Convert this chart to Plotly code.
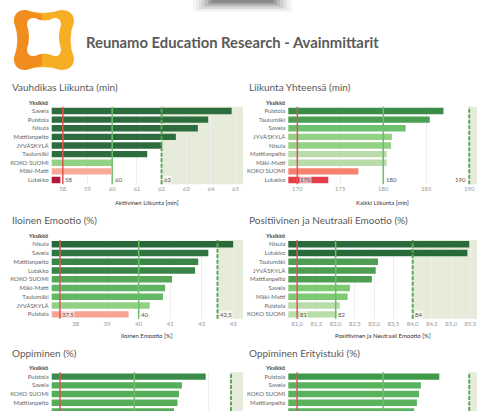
import plotly.graph_objects as go

W, H = 477, 411

# ---------------- data ----------------
VL_UNITS = ["Savela", "Puistola", "Nisula", "Mattilanpelto", "JYVÄSKYLÄ", "Taulumäki", "KOKO SUOMI", "Mäki-Matti", "Lutakko"]
VL_VALUES = [64.84, 63.89, 63.47, 62.58, 62.02, 61.42, 60.0, 59.96, 57.9]
VL_REFS = [58, 60, 62]
VL_TICKS = [58, 59, 60, 61, 62, 63, 64, 65]

LY_UNITS = ["Puistola", "Taulumäki", "Savela", "JYVÄSKYLÄ", "Nisula", "Mattilanpelto", "Mäki-Matti", "KOKO SUOMI", "Lutakko"]
LY_VALUES = [187.0, 185.4, 182.6, 181.0, 180.9, 180.4, 180.4, 177.1, 173.6]
LY_REFS = [170, 180, 190]
LY_TICKS = [170, 175, 180, 185, 190]

IE_UNITS = ["Nisula", "Savela", "Mattilanpelto", "Lutakko", "KOKO SUOMI", "Mäki-Matti", "Taulumäki", "JYVÄSKYLÄ", "Puistola"]
IE_VALUES = [43.0, 42.21, 41.89, 41.79, 41.06, 40.84, 40.77, 40.35, 39.68]
IE_REFS = [37.5, 40, 42.5]
IE_TICKS = [38, 39, 40, 41, 42, 43]

PN_UNITS = ["Nisula", "Lutakko", "Taulumäki", "JYVÄSKYLÄ", "Mattilanpelto", "Savela", "Mäki-Matti", "Puistola", "KOKO SUOMI"]
PN_VALUES = [85.47, 85.42, 83.1, 83.04, 82.94, 82.37, 82.31, 82.11, 82.03]
PN_REFS = [81, 82, 84]
PN_TICKS = [81.0, 81.5, 82.0, 82.5, 83.0, 83.5, 84.0, 84.5, 85.0, 85.5]

OP_UNITS = ["Puistola", "Savela", "KOKO SUOMI", "Mattilanpelto", "Nisula"]
OP_VALUES = [79.8, 78.2, 78.0, 77.9, 77.67]
OP_REFS = [70, 75, 81.5]
OP_TICKS = [70, 75, 80]

OE_UNITS = ["Puistola", "Savela", "KOKO SUOMI", "Mattilanpelto", "Lutakko"]
OE_VALUES = [78.26, 77.19, 77.08, 76.96, 76.8]
OE_REFS = [70, 75, 80]
OE_TICKS = [70, 75, 80]

# ---------------- styles ----------------
DG = "#2d6c3c"
VL_COLORS = [DG, DG, DG, DG, DG, DG, "#93d185", "#f9a99a", "#b3173b"]
LY_COLORS = ["#3b8c48", "#4b9f52", "#6cc070", "#93d184", "#93d184", "#badcab", "#badcab", "#f8806e", "#e3404b"]
IE_COLORS = ["#28683a", "#2f7540", "#3a8446", "#3a8446", "#56a858", "#5eb462", "#62b865", "#90d184", "#f9a392"]
PN_COLORS = ["#296a3a", "#296a3a", "#4e9e52", "#4e9e52", "#4e9e52", "#7dca72", "#7dca72", "#b8dda8", "#b8dda8"]
OP_COLORS = ["#3b8c48", "#55ad58", "#55ad58", "#55ad58", "#55ad58"]
OE_COLORS = ["#3f9a4a", "#58b35c", "#58b35c", "#58b35c", "#58b35c"]


def comma(v):
    return ("%g" % v).replace(".", ",")


def comma1(v):
    return ("%.1f" % v).replace(".", ",")


def px(x):
    return x / W


def py(y):
    return 1 - y / H


FONT = "Lato"
panels = [
    dict(title="Vauhdikas Liikunta (min)", units=VL_UNITS, vals=VL_VALUES, cols=VL_COLORS, refs=VL_REFS,
         ticks=VL_TICKS, ttext=[str(t) for t in VL_TICKS], xl=51.7, xr=243, yt=106.7, yb=184.3,
         rng=[57.55, 65.3], axtitle="Aktiivinen Liikunta [min]", axy=202, rows=None, last_right=False),
    dict(title="Liikunta Yhteensä (min)", units=LY_UNITS, vals=LY_VALUES, cols=LY_COLORS, refs=LY_REFS,
         ticks=LY_TICKS, ttext=[str(t) for t in LY_TICKS], xl=288.3, xr=477, yt=106.7, yb=184.3,
         rng=[168.95, 190.9], axtitle="Kaikki Liikunta [min]", axy=202, rows=None, last_right=True),
    dict(title="Iloinen Emootio (%)", units=IE_UNITS, vals=IE_VALUES, cols=IE_COLORS, refs=IE_REFS,
         ticks=IE_TICKS, ttext=[str(t) for t in IE_TICKS], xl=51.7, xr=243, yt=239.9, yb=318.7,
         rng=[37.24, 43.31], axtitle="Iloinen Emootio [%]", axy=335.7, rows=None, last_right=False),
    dict(title="Positiivinen ja Neutraali Emootio (%)", units=PN_UNITS, vals=PN_VALUES, cols=PN_COLORS, refs=PN_REFS,
         ticks=PN_TICKS, ttext=[comma1(t) for t in PN_TICKS], xl=288.3, xr=477, yt=239.9, yb=318.7,
         rng=[80.77, 85.67], axtitle="Positiivinen ja Neutraali Emootio [%]", axy=335.7, rows=None, last_right=False),
    dict(title="Oppiminen (%)", units=OP_UNITS, vals=OP_VALUES, cols=OP_COLORS, refs=OP_REFS,
         ticks=OP_TICKS, ttext=[str(t) for t in OP_TICKS], xl=51.7, xr=243, yt=372.3, yb=411,
         rng=[69.44, 82.31], axtitle=None, axy=None, rows=4.45, last_right=False),
    dict(title="Oppiminen Erityistuki (%)", units=OE_UNITS, vals=OE_VALUES, cols=OE_COLORS, refs=OE_REFS,
         ticks=OE_TICKS, ttext=[str(t) for t in OE_TICKS], xl=288.3, xr=477, yt=372.3, yb=411,
         rng=[69.49, 80.45], axtitle=None, axy=None, rows=4.45, last_right=False),
]

fig = go.Figure()
layout = dict(template="none", width=W, height=H, margin=dict(l=0, r=0, t=0, b=0, pad=0, autoexpand=False),
              paper_bgcolor="white", plot_bgcolor="white", showlegend=False, bargap=0.27,
              font=dict(family=FONT, color="#555"))
shapes = []
annotations = []

for i, p in enumerate(panels):
    n = i + 1
    xa = "x" if n == 1 else "x%d" % n
    ya = "y" if n == 1 else "y%d" % n
    xkey = "xaxis" if n == 1 else "xaxis%d" % n
    ykey = "yaxis" if n == 1 else "yaxis%d" % n
    fig.add_trace(go.Bar(x=p["vals"], y=p["units"], orientation="h", marker=dict(color=p["cols"], line=dict(width=0)),
                         xaxis=xa, yaxis=ya, hoverinfo="x+y"))
    if p["rows"] is None:
        yr = [len(p["units"]) - 0.5, -0.5]
    else:
        yr = [p["rows"] - 0.5, -0.5]
    layout[xkey] = dict(domain=[px(p["xl"]), px(p["xr"])], range=p["rng"], autorange=False, anchor=ya,
                        tickmode="array", tickvals=p["ticks"], ticktext=p["ttext"], showgrid=True,
                        gridcolor="#eeeeee", gridwidth=1, zeroline=False, automargin=False,
                        showline=False, ticks="", tickfont=dict(size=6, color="#999"), fixedrange=True,
                        showticklabels=p["rows"] is None)
    layout[ykey] = dict(domain=[py(p["yb"]), py(p["yt"])], range=yr, autorange=False, anchor=xa, type="category",
                        categoryorder="array", categoryarray=p["units"], showgrid=False, zeroline=False,
                        automargin=False, showline=False, ticks="", tickfont=dict(size=6, color="#666"),
                        fixedrange=True, ticklabelstandoff=2)
    red, green, target = p["refs"]
    yd = ya + " domain"
    shapes.append(dict(type="rect", xref=xa, yref=yd, x0=target, x1=p["rng"][1], y0=0, y1=1,
                       fillcolor="#e7ecda", line=dict(width=0), layer="below"))
    shapes.append(dict(type="line", xref=xa, yref=yd, x0=red, x1=red, y0=0, y1=1,
                       line=dict(color="#e05555", width=1.5), layer="above"))
    shapes.append(dict(type="line", xref=xa, yref=yd, x0=green, x1=green, y0=0, y1=1,
                       line=dict(color="#6cbf6a", width=1.5), layer="above"))
    shapes.append(dict(type="line", xref=xa, yref=yd, x0=target, x1=target, y0=0, y1=1,
                       line=dict(color="#5ca65a", width=2, dash="4px,1.5px"), layer="above"))
    tx = 10 if p["xl"] < 100 else 247.3
    tyy = p["yt"] - 19.5
    annotations.append(dict(text=p["title"], xref="paper", yref="paper", x=px(tx), y=py(tyy),
                            xanchor="left", yanchor="middle", showarrow=False,
                            font=dict(size=10, color="#5a5a5a", family=FONT)))
    annotations.append(dict(text="<b>Yksikkö</b>", xref="paper", yref="paper", x=px(p["xl"] - 1.8),
                            y=py(p["yt"] - 4), xanchor="right", yanchor="middle", showarrow=False,
                            font=dict(size=5.5, color="#444", family=FONT)))
    if p["axtitle"]:
        annotations.append(dict(text=p["axtitle"], xref="paper", yref="paper", x=px((p["xl"] + p["xr"]) / 2),
                                y=py(p["axy"]), xanchor="center", yanchor="middle", showarrow=False,
                                font=dict(size=6, color="#333", family=FONT)))
    if p["rows"] is None:
        last = p["units"][-1]
        for k, rv in enumerate(p["refs"]):
            right = (k == 2 and p["last_right"])
            annotations.append(dict(text=comma(rv), xref=xa, yref=ya, x=rv, y=last,
                                    xanchor="right" if right else "left", xshift=-2 if right else 1.5,
                                    yanchor="middle", showarrow=False, bgcolor="rgba(255,255,255,0.6)",
                                    borderpad=0, font=dict(size=6, color="#555", family=FONT)))

annotations.append(dict(text="<b>Reunamo Education Research - Avainmittarit</b>", xref="paper", yref="paper",
                        x=px(84), y=py(41.5), xanchor="left", yanchor="middle", showarrow=False,
                        font=dict(size=14.8, color="#5a5a5a", family=FONT)))


def pth(pts):
    out = []
    for cmd in pts:
        if isinstance(cmd, str):
            out.append(cmd)
        else:
            out.append("%.5f,%.5f" % (px(cmd[0]), py(cmd[1])))
    return " ".join(out)


outer = ["M", (14, 22), "Q", (14, 10), (26, 10), "Q", (43, 16), (61, 10), "Q", (74, 10), (74, 22),
         "Q", (67, 40), (74, 58), "Q", (74, 70), (61, 70), "Q", (43, 64), (26, 70), "Q", (14, 70), (14, 58),
         "Q", (21, 40), (14, 22), "Z"]
left = ["M", (14, 22), "Q", (14, 10), (26, 10), "Q", (34, 13), (42, 14.5), "L", (42, 65.5),
        "Q", (34, 67), (26, 70), "Q", (14, 70), (14, 58), "Q", (21, 40), (14, 22), "Z"]
inner = ["M", (27, 25), "Q", (27, 17), (35, 18), "Q", (44, 23), (54, 18), "Q", (61, 17), (61, 25),
         "Q", (57, 37), (61, 49), "Q", (61, 57), (54, 56), "Q", (44, 51), (35, 56), "Q", (27, 57), (27, 49),
         "Q", (31, 37), (27, 25), "Z"]
shapes.append(dict(type="path", xref="paper", yref="paper", path=pth(outer), fillcolor="#f6ae24", line=dict(width=0)))
shapes.append(dict(type="path", xref="paper", yref="paper", path=pth(left), fillcolor="#f18d1f", line=dict(width=0)))
shapes.append(dict(type="path", xref="paper", yref="paper", path=pth(inner), fillcolor="white", line=dict(width=0)))

for (x0, x1, y1, a) in [(193, 292, 12, 0.04), (196, 289, 10.5, 0.05), (199, 286, 9, 0.07), (202, 283, 7.5, 0.09),
                        (205, 280, 6, 0.12), (208, 277, 4.5, 0.15), (211, 274, 3, 0.2)]:
    shapes.append(dict(type="rect", xref="paper", yref="paper", x0=px(x0), x1=px(x1), y0=py(y1), y1=1,
                       fillcolor="rgba(40,40,40,%g)" % a, line=dict(width=0)))

layout["shapes"] = shapes
layout["annotations"] = annotations
fig.update_layout(**layout)
fig.write_html("out.html", config={"displayModeBar": False},
               post_script="document.body.style.margin='0';document.body.style.padding='0';")
